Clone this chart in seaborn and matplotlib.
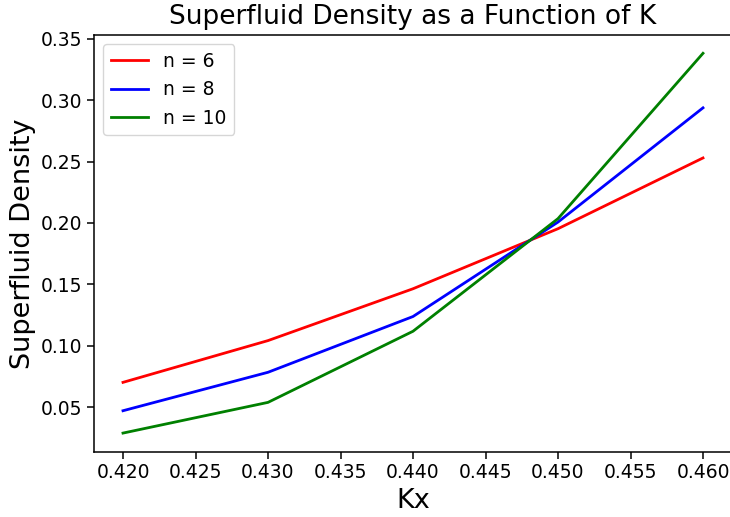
import matplotlib
matplotlib.use("Agg")
import matplotlib.pyplot as plt
import seaborn as sns
import pandas as pd

kx = [0.42, 0.43, 0.44, 0.45, 0.46]
rho_n6 = [0.0702, 0.1042, 0.1464, 0.1953, 0.2529]
rho_n8 = [0.0471, 0.0784, 0.1238, 0.2007, 0.2937]
rho_n10 = [0.0289, 0.0539, 0.1118, 0.2035, 0.3381]
labels = ["n = 6", "n = 8", "n = 10"]
colors = ["red", "blue", "green"]

rows = []
for lab, vals in zip(labels, [rho_n6, rho_n8, rho_n10]):
    for x, y in zip(kx, vals):
        rows.append({"Kx": x, "rho": y, "n": lab})
df = pd.DataFrame(rows)

plt.rcParams["font.family"] = ["DejaVu Sans"]
fig = plt.figure(figsize=(7.30, 5.17), dpi=100)
ax = fig.add_axes([94 / 730, 65 / 517, (732 - 94) / 730, (452 - 35) / 517])

sns.lineplot(data=df, x="Kx", y="rho", hue="n", hue_order=labels,
             palette=dict(zip(labels, colors)), linewidth=2.0, ax=ax,
             estimator=None, sort=False)

ax.set_title("Superfluid Density as a Function of K", fontsize=19, pad=8)
ax.set_xlabel("Kx", fontsize=19.5)
ax.set_ylabel("Superfluid Density", fontsize=19.5)
ax.tick_params(labelsize=13.5, length=4.7, width=1.1)
for s in ax.spines.values():
    s.set_linewidth(1.1)
ax.set_xticks([0.42, 0.425, 0.43, 0.435, 0.44, 0.445, 0.45, 0.455, 0.46])
ax.set_xticklabels(["0.420", "0.425", "0.430", "0.435", "0.440", "0.445", "0.450", "0.455", "0.460"])
ax.set_yticks([0.05, 0.10, 0.15, 0.20, 0.25, 0.30, 0.35])
ax.set_yticklabels(["0.05", "0.10", "0.15", "0.20", "0.25", "0.30", "0.35"])
ax.set_xlim(0.418, 0.462)
ax.set_ylim(0.0135, 0.353)
leg = ax.legend(loc="upper left", fontsize=13.5, title=None)
for line in leg.get_lines():
    line.set_linewidth(2.0)

fig.savefig("out.png", dpi=100)
